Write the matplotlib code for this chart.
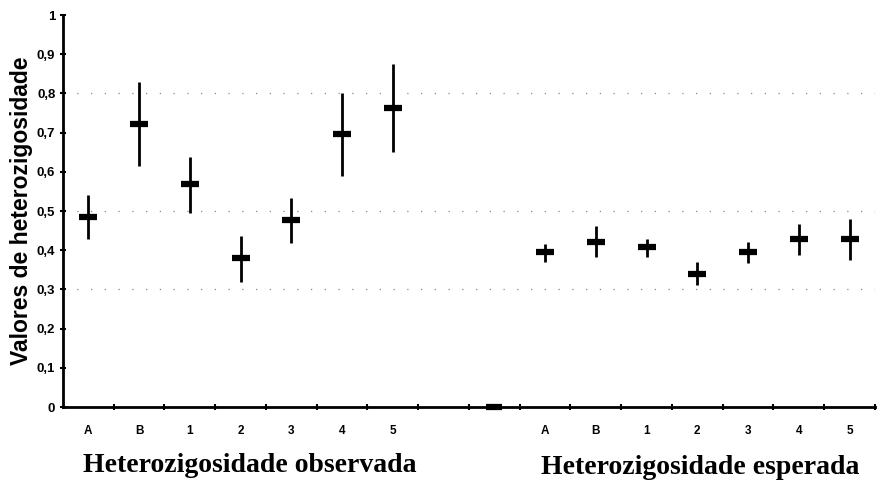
import matplotlib.pyplot as plt
import numpy as np

# observed heterozygosity (left group) and expected heterozygosity (right group)
groups = ['A', 'B', '1', '2', '3', '4', '5']
obs_mean = [0.485, 0.722, 0.569, 0.380, 0.477, 0.696, 0.763]
obs_low = [0.428, 0.615, 0.495, 0.319, 0.418, 0.589, 0.651]
obs_high = [0.541, 0.829, 0.638, 0.436, 0.533, 0.801, 0.875]

exp_mean = [0.395, 0.422, 0.409, 0.339, 0.395, 0.428, 0.428]
exp_low = [0.369, 0.382, 0.382, 0.310, 0.367, 0.387, 0.375]
exp_high = [0.415, 0.463, 0.429, 0.369, 0.420, 0.467, 0.480]

# empty slot between groups, drawn at zero
gap_mean = [0.0]

yticks = [0, 0.1, 0.2, 0.3, 0.4, 0.5, 0.6, 0.7, 0.8, 0.9, 1]
ytick_labels = ['0', '0,1', '0,2', '0,3', '0,4', '0,5', '0,6', '0,7', '0,8', '0,9', '1']

x_obs = np.arange(7) + 0.5
x_gap = np.array([8.5])
x_exp = np.arange(9, 16) + 0.5

fig = plt.figure(figsize=(8.79, 4.87), dpi=100)
ax = fig.add_axes([63/879, 80/487, 812/879, 392/487])

for xs, m, lo, hi in [(x_obs, obs_mean, obs_low, obs_high),
                      (x_exp, exp_mean, exp_low, exp_high)]:
    m = np.array(m)
    err = [m - np.array(lo), np.array(hi) - m]
    ax.errorbar(xs, m, yerr=err, fmt='none', ecolor='black', elinewidth=2, capsize=0)
    ax.plot(xs, m, ls='none', marker='_', ms=12.5, mew=4.5, color='black')

ax.plot(x_gap, gap_mean, ls='none', marker='_', ms=12, mew=4.5, color='black', clip_on=False)

# faint dotted gridlines left over in the scan
for g in [0.3, 0.5, 0.8]:
    ax.axhline(g, color='#888888', lw=0.9, ls=(0, (1, 10)), zorder=0)

ax.set_xlim(0, 16)
ax.set_ylim(0, 1)
ax.spines['top'].set_visible(False)
ax.spines['right'].set_visible(False)
ax.spines['left'].set_linewidth(2)
ax.spines['bottom'].set_linewidth(2)

ax.set_yticks(yticks)
ax.set_yticklabels(ytick_labels, fontsize=9.5, fontweight='bold', family='Liberation Sans')
ax.tick_params(axis='y', direction='inout', length=5, width=1.5, pad=3)

ax.set_xticks(np.concatenate([x_obs, x_exp]))
ax.set_xticklabels(groups + groups, fontsize=8.5, fontweight='bold', family='Liberation Sans')
ax.set_xticks(np.arange(1, 17), minor=True)
ax.tick_params(axis='x', which='major', length=0, pad=13)
ax.tick_params(axis='x', which='minor', direction='inout', length=5, width=1.5)

ax.set_ylabel('Valores de heterozigosidade', fontsize=16.5, fontweight='bold',
              family='Liberation Sans', labelpad=3)

fig.text(250/879, 1 - 466/487, 'Heterozigosidade observada', ha='center', va='center',
         fontsize=20, fontweight='bold', family='Liberation Serif')
fig.text(700/879, 1 - 468/487, 'Heterozigosidade esperada', ha='center', va='center',
         fontsize=20, fontweight='bold', family='Liberation Serif')

fig.savefig('out.png', dpi=100)
